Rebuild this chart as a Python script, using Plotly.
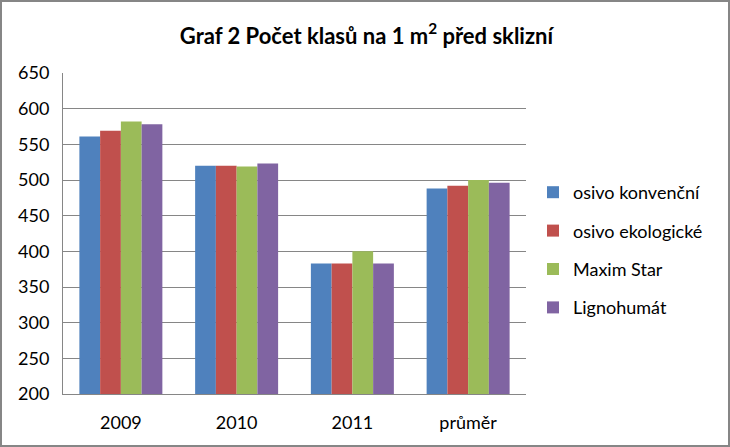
import plotly.graph_objects as go

categories = ["2009", "2010", "2011", "průměr"]
series_names = ["osivo konvenční", "osivo ekologické", "Maxim Star", "Lignohumát"]
konvencni = [561, 520, 383, 488]
ekologicke = [569, 520, 383, 492]
maxim_star = [582, 519, 400, 500]
lignohumat = [578, 523, 383, 496]
y_ticks = [200, 250, 300, 350, 400, 450, 500, 550, 600, 650]

series_values = [konvencni, ekologicke, maxim_star, lignohumat]
colors = ["#4F81BD", "#C0504D", "#9BBB59", "#8064A2"]

W, H = 730, 447
L, R, T, B = 63, 204, 73, 53
pw = W - L - R
ph = H - T - B

fig = go.Figure()
for i, (name, vals) in enumerate(zip(series_names, series_values)):
    fig.add_trace(go.Bar(x=categories, y=vals, name=name, marker_color=colors[i],
                         marker_line_width=0, legendgroup=f"g{i}"))

font_family = "Lato, Carlito, Calibri, sans-serif"
fig.update_layout(
    width=W, height=H,
    margin=dict(l=L, r=R, t=T, b=B),
    paper_bgcolor="white", plot_bgcolor="white",
    barmode="group", bargap=0.283, bargroupgap=0,
    font=dict(family=font_family, size=18, color="black"),
    title=dict(text="<b>Graf 2 Počet klasů na 1 m<sup>2</sup> před sklizní</b>",
               x=0.502, xanchor="center", y=1 - 36 / H, yanchor="middle",
               font=dict(family=font_family, size=22, color="black")),
    showlegend=True,
    legend=dict(x=(533 - L) / pw, xanchor="left", y=1 - (174 - T) / ph, yanchor="top",
                traceorder="grouped", tracegroupgap=12,
                font=dict(family=font_family, size=18, color="black"),
                bgcolor="rgba(0,0,0,0)"),
    xaxis=dict(showline=True, linecolor="#868686", linewidth=1, ticks="",
               tickfont=dict(size=18), showgrid=False, ticklabelstandoff=12),
    yaxis=dict(range=[200, 650], tickvals=y_ticks, showgrid=True, gridcolor="#868686",
               gridwidth=1, showline=True, linecolor="#868686", linewidth=1,
               ticks="", tickfont=dict(size=18), zeroline=False, ticklabelstandoff=9),
)

# outer chart border
fig.add_shape(type="rect", xref="paper", yref="paper",
              x0=(1 - L) / pw, x1=(W - 1 - L) / pw,
              y0=-(B - 1) / ph, y1=1 + (T - 1) / ph,
              line=dict(color="#868686", width=2), fillcolor="rgba(0,0,0,0)", layer="above")

fig.write_html("out.html", config={"displayModeBar": False},
               post_script="document.body.style.margin='0';")
